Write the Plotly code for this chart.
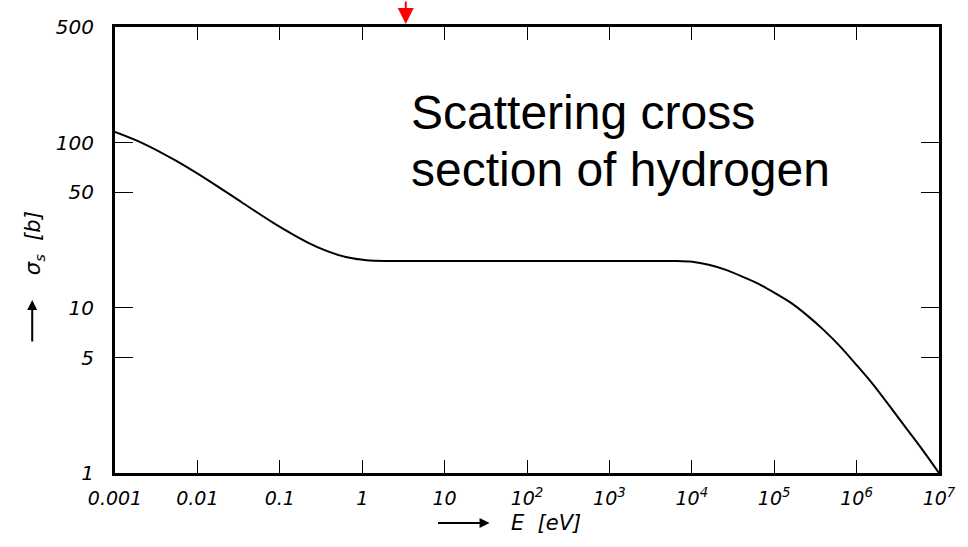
import plotly.graph_objects as go

# Neutron energy (eV) and scattering cross section of hydrogen (barn)
energy_ev = [1e-3, 2.18e-3, 5.48e-3, 0.0137, 0.0344, 0.0863, 0.216, 0.376, 0.652,
             1.13, 1.96, 3.16, 10, 31.6, 100, 316, 1000, 3160, 6400, 10140,
             16070, 25400, 40300, 63800, 1.01e5, 1.6e5, 2.53e5, 4.0e5, 6.34e5,
             1.0e6, 1.59e6, 2.52e6, 3.99e6, 6.31e6, 1e7]
sigma_b = [115.8, 98.9, 77.6, 58.8, 43.5, 32.3, 24.9, 22.0, 20.2,
           19.4, 19.2, 19.2, 19.2, 19.2, 19.2, 19.2, 19.2, 19.2, 19.2, 19.0,
           18.2, 17.0, 15.5, 14.0, 12.3, 10.7, 8.96, 7.32, 5.82,
           4.50, 3.43, 2.54, 1.87, 1.38, 1.0]

x_tickvals = [1e-3, 1e-2, 1e-1, 1, 10, 1e2, 1e3, 1e4, 1e5, 1e6, 1e7]
x_ticktext = ["0.001", "0.01", "0.1", "1", "10", "10<sup>2</sup>", "10<sup>3</sup>",
              "10<sup>4</sup>", "10<sup>5</sup>", "10<sup>6</sup>", "10<sup>7</sup>"]
y_tickvals = [1, 5, 10, 50, 100, 500]
y_ticktext = ["1", "5", "10", "50", "100", "500"]

x_tick_font = dict(family="DejaVu Sans", size=19, color="black", style="italic")
y_tick_font = dict(family="DejaVu Sans", size=20, color="black", style="italic")

fig = go.Figure()
fig.add_trace(go.Scatter(
    x=energy_ev, y=sigma_b, mode="lines",
    line=dict(color="black", width=2, shape="spline", smoothing=0.8),
    hoverinfo="skip", showlegend=False,
))

fig.update_xaxes(
    type="log", range=[-3, 7],
    tickvals=x_tickvals, ticktext=x_ticktext, tickfont=x_tick_font,
    ticks="inside", ticklen=13, tickwidth=1, tickcolor="black",
    showline=True, linecolor="black", linewidth=3, mirror="ticks",
    showgrid=False, zeroline=False, ticklabelstandoff=6,
)
fig.update_yaxes(
    type="log", range=[0, 2.69897],
    tickvals=y_tickvals, ticktext=y_ticktext, tickfont=y_tick_font,
    ticks="inside", ticklen=18, tickwidth=1, tickcolor="black",
    showline=True, linecolor="black", linewidth=3, mirror="ticks",
    showgrid=False, zeroline=False, ticklabelstandoff=14,
)

annotations = [
    # chart caption
    dict(text="Scattering cross", x=(413 - 115) / 836, y=(473 - 112) / 446,
         xref="paper", yref="paper", xanchor="left", yanchor="middle",
         showarrow=False, font=dict(family="Liberation Sans", size=48, color="black")),
    dict(text="section of hydrogen", x=(413 - 115) / 836, y=(473 - 169) / 446,
         xref="paper", yref="paper", xanchor="left", yanchor="middle",
         showarrow=False, font=dict(family="Liberation Sans", size=48, color="black")),
    # x-axis title with arrow
    dict(text="", x=(495 - 115) / 836, y=(473 - 523) / 446, xref="paper", yref="paper",
         showarrow=True, ax=-53, ay=0, arrowhead=2, arrowsize=1, arrowwidth=2,
         arrowcolor="black"),
    dict(text="E  [eV]", x=(515 - 115) / 836, y=(473 - 523) / 446,
         xref="paper", yref="paper", xanchor="left", yanchor="middle", showarrow=False,
         font=dict(family="DejaVu Sans", size=21, color="black", style="italic")),
    # y-axis title with arrow
    dict(text="", x=(31 - 115) / 836, y=(473 - 300) / 446, xref="paper", yref="paper",
         showarrow=True, ax=0, ay=43, arrowhead=2, arrowsize=1, arrowwidth=2,
         arrowcolor="black"),
    dict(text="σ<sub>s</sub>  [b]", x=(33 - 115) / 836, y=(473 - 243) / 446,
         xref="paper", yref="paper", xanchor="center", yanchor="middle",
         textangle=-90, showarrow=False,
         font=dict(family="DejaVu Sans", size=21, color="black", style="italic")),
    # red marker arrow at the top edge
    dict(text="", x=(410 - 115) / 836, y=(473 - 24) / 446, xref="paper", yref="paper",
         showarrow=True, ax=0, ay=-34, arrowhead=2, arrowsize=1.6, arrowwidth=2,
         arrowcolor="red"),
]

fig.update_layout(
    width=968, height=547,
    margin=dict(l=115, r=17, t=27, b=74),
    paper_bgcolor="white", plot_bgcolor="white",
    annotations=annotations,
)

fig.write_html("out.html")
